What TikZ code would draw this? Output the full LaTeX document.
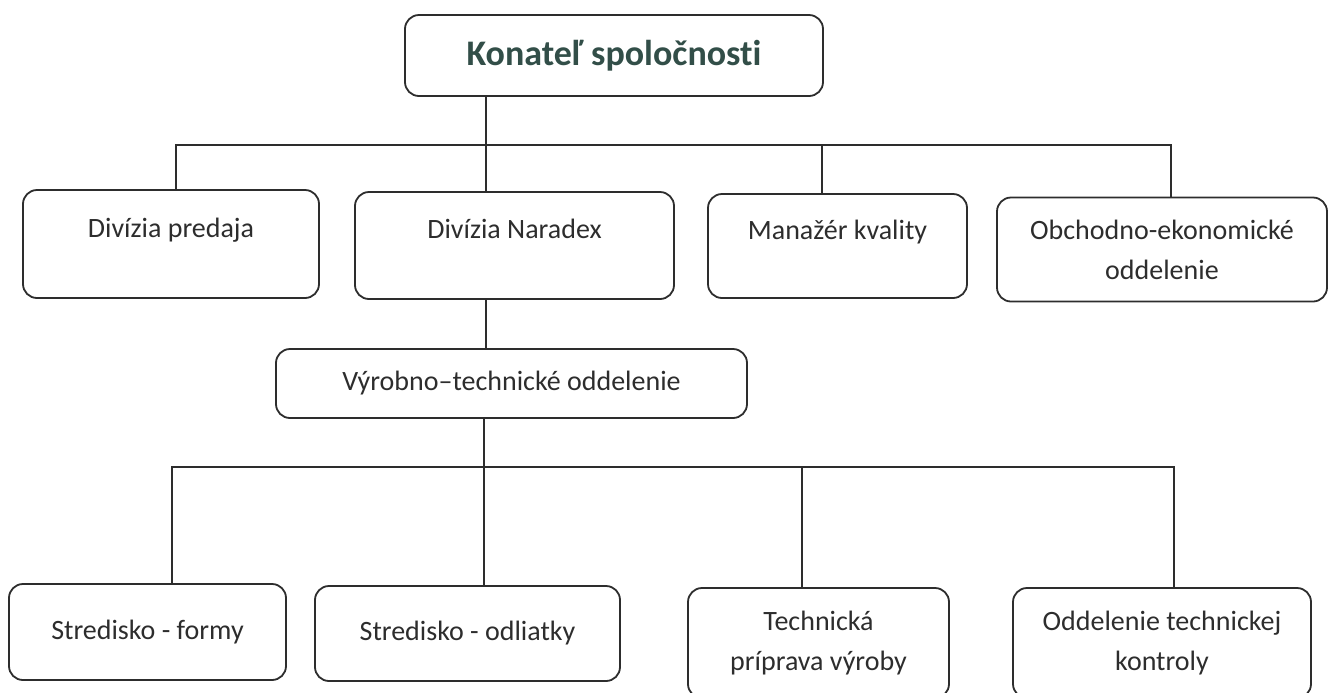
\documentclass[tikz,border=0pt]{standalone}
\usepackage{fontspec}
\setmainfont{Carlito}[Ligatures=NoCommon]
\usepackage{tikz}
\definecolor{mydark}{RGB}{45,45,45}
\definecolor{mytitle}{RGB}{50,78,72}
\tikzset{
  orgbox/.style={rectangle, draw=mydark, rounded corners=7pt, line width=0.9pt,
    align=center, text=mydark, font=\fontsize{14}{20}\selectfont, inner sep=0pt},
  topbox/.style={orgbox, text=mytitle, font=\fontsize{18}{22}\selectfont\bfseries},
  upper/.style={text height=10pt, text depth=17pt},
  line/.style={line width=0.7pt, color=mydark}
}

\begin{document}
\begin{tikzpicture}[x=0.5pt, y=-0.5pt]
  \useasboundingbox (0,0) rectangle (1330,692);

  \node [topbox, minimum width=209pt, minimum height=40.5pt] (boss) at (614,55.5) {Konateľ spoločnosti};

  \node [orgbox, upper, minimum width=148pt, minimum height=54pt] (predaj) at (171,244) {Divízia predaja};
  \node [orgbox, upper, minimum width=159.5pt, minimum height=53.5pt] (naradex) at (514.5,245.5) {Divízia Naradex};
  \node [orgbox, upper, minimum width=129.5pt, minimum height=52pt] (kvalita) at (837.5,246) {Manažér kvality};
  \node [orgbox, minimum width=165pt, minimum height=52pt] (obchod) at (1162,249.5) {Obchodno-ekonomické\\oddelenie};

  \node [orgbox, minimum width=235.5pt, minimum height=34.5pt] (vyroba) at (511.5,383.5) {Výrobno–technické oddelenie};

  \node [orgbox, minimum width=138.5pt, minimum height=48pt] (formy) at (147.5,632) {Stredisko - formy};
  \node [orgbox, minimum width=152.5pt, minimum height=47.5pt] (odliatky) at (467.5,633.5) {Stredisko - odliatky};
  \node [orgbox, minimum width=130.5pt, minimum height=55pt] (priprava) at (818.5,643) {Technická\\príprava výroby};
  \node [orgbox, minimum width=149pt, minimum height=55pt] (kontrola) at (1162,643) {Oddelenie technickej\\kontroly};

  \coordinate (t1) at (176,145);
  \coordinate (t2) at (486,145);
  \coordinate (t3) at (822,145);
  \coordinate (t4) at (1171,145);
  \draw [line] (boss.south -| t2) -- (t2);
  \draw [line] (predaj.north -| t1) -- (t1) -- (t4) -- (obchod.north -| t4);
  \draw [line] (t2) -- (naradex.north -| t2);
  \draw [line] (t3) -- (kvalita.north -| t3);
  \draw [line] (naradex.south -| t2) -- (vyroba.north -| t2);

  \coordinate (s1) at (172,467);
  \coordinate (s2) at (484,467);
  \coordinate (s3) at (802,467);
  \coordinate (s4) at (1174,467);
  \draw [line] (vyroba.south -| s2) -- (odliatky.north -| s2);
  \draw [line] (formy.north -| s1) -- (s1) -- (s4) -- (kontrola.north -| s4);
  \draw [line] (s3) -- (priprava.north -| s3);
\end{tikzpicture}
\end{document}
